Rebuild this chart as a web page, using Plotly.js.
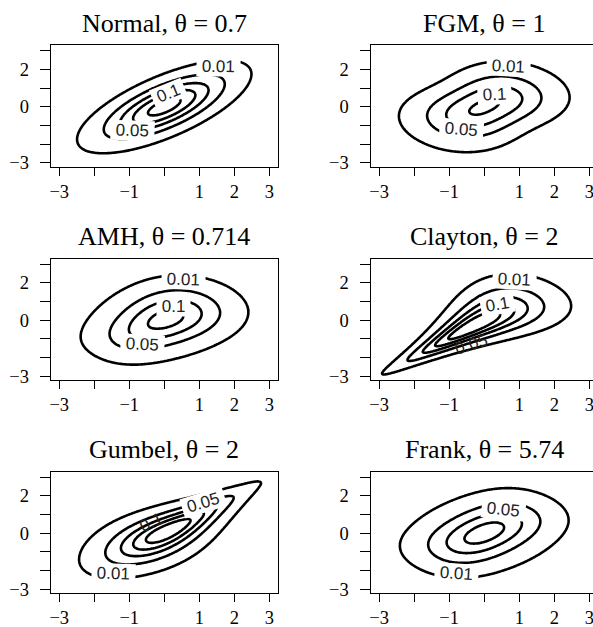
<!DOCTYPE html>
<html><head><meta charset="utf-8">
<script src="https://cdn.plot.ly/plotly-3.0.1.min.js"></script>
<style>html,body{margin:0;padding:0;overflow:hidden;background:#fff}#plot{width:605px;height:627px}</style>
</head><body><div id="plot"></div>
<script>
// ---- data ----
const families = ['Normal', 'FGM', 'AMH', 'Clayton', 'Gumbel', 'Frank'];
const thetaText = ['0.7', '1', '0.714', '2', '2', '5.74'];
// parameters that reproduce the drawn contours (Frank contours are drawn with a weaker dependence than its title)
const thetas = [0.7, 1, 0.714, 2, 2, 2.2];
const levels = [0.01, 0.05, 0.1, 0.15, 0.2, 0.25, 0.3, 0.35, 0.4];
const labelLevels = [
  ['0.01', '0.1', '0.05'], ['0.01', '0.1', '0.05'], ['0.01', '0.1', '0.05'],
  ['0.01', '0.1', '0.05'], ['0.01', '0.05', '0.1'], ['0.05', '0.01']
];
const tickVals = [-3, -2, -1, 0, 1, 2, 3];
const xTickText = ['\u22123', '', '\u22121', '', '1', '2', '3'];
const yTickText = ['\u22123', '', '', '0', '', '2', ''];
const gridMin = -3, gridMax = 3, gridN = 161;

// ---- contour label placement (text positions, in axis units) ----
const labelX = [[1.54, 0.11, -0.90], [0.69, 0.30, -0.65], [0.54, 0.26, -0.62],
                [0.85, 0.37, -0.36], [-1.46, 1.13, -0.36], [0.56, -0.79]];
const labelY = [[2.14, 0.71, -1.29], [2.14, 0.68, -1.21], [2.18, 0.73, -1.31],
                [2.18, 0.82, -1.31], [-2.18, 1.61, 0.54], [1.25, -2.18]];
const labelAngle = [[1, -22, 2], [3, -3, 5], [2, 0, 3], [3, -10, -17], [2, -17, -25], [6, 4]];
const labelMask = [[1, 1, 1], [1, 1, 1], [1, 1, 1], [1, 1, 0], [1, 1, 0], [1, 1]];

// ---- copula densities with N(0,1) margins ----
function erfc(x) {
  const z = Math.abs(x), t = 1 / (1 + 0.5 * z);
  const r = t * Math.exp(-z * z - 1.26551223 + t * (1.00002368 + t * (0.37409196 + t * (0.09678418 +
    t * (-0.18628806 + t * (0.27886807 + t * (-1.13520398 + t * (1.48851587 + t * (-0.82215223 + t * 0.17087277)))))))));
  return x >= 0 ? r : 2 - r;
}
const pnorm = x => 0.5 * erfc(-x / Math.SQRT2);
const dnorm = x => Math.exp(-x * x / 2) / Math.sqrt(2 * Math.PI);
const copulaDensity = {
  Normal: (u, v, t, x, y) => Math.exp(-(x * x - 2 * t * x * y + y * y) / (2 * (1 - t * t)) + (x * x + y * y) / 2) / Math.sqrt(1 - t * t),
  FGM: (u, v, t) => 1 + t * (1 - 2 * u) * (1 - 2 * v),
  AMH: (u, v, t) => (1 + t * ((1 + u) * (1 + v) - 3) + t * t * (1 - u) * (1 - v)) / Math.pow(1 - t * (1 - u) * (1 - v), 3),
  Clayton: (u, v, t) => (1 + t) * Math.pow(u * v, -t - 1) * Math.pow(Math.pow(u, -t) + Math.pow(v, -t) - 1, -2 - 1 / t),
  Gumbel: (u, v, t) => {
    const a = -Math.log(u), b = -Math.log(v);
    const A = Math.pow(a, t) + Math.pow(b, t), w = Math.pow(A, 1 / t);
    return Math.exp(-w) * Math.pow(a * b, t - 1) / (u * v) * Math.pow(A, 1 / t - 2) * (w + t - 1);
  },
  Frank: (u, v, t) => {
    const e = 1 - Math.exp(-t);
    const d = e - (1 - Math.exp(-t * u)) * (1 - Math.exp(-t * v));
    return t * e * Math.exp(-t * (u + v)) / (d * d);
  }
};

const grid = [];
for (let i = 0; i < gridN; i++) grid.push(gridMin + (gridMax - gridMin) * i / (gridN - 1));

// ---- layout geometry (pixels) ----
const W = 605, H = 627;
const colBox = [[50.7, 278], [370.5, 598.2]];
const rowBox = [[45.3, 166.7], [258.6, 380], [471.6, 593]];
const xRange = [-3.245, 3.25], yRange = [-3.21, 3.29];

const traces = [];
const layout = {
  width: W, height: H, margin: {l: 0, r: 0, t: 0, b: 0},
  paper_bgcolor: '#fff', plot_bgcolor: '#fff', showlegend: false,
  annotations: []
};

families.forEach((fam, p) => {
  const th = thetas[p];
  const z = grid.map(y => grid.map(x => {
    const u = pnorm(x), v = pnorm(y);
    return copulaDensity[fam](u, v, th, x, y) * dnorm(x) * dnorm(y);
  }));
  const ax = p === 0 ? '' : String(p + 1);
  const col = p % 2, row = Math.floor(p / 2);
  const [l, r] = colBox[col], [t, b] = rowBox[row];
  levels.forEach(L => {
    traces.push({
      type: 'contour', x: grid, y: grid, z: z,
      xaxis: 'x' + ax, yaxis: 'y' + ax,
      autocontour: false, showscale: false, hoverinfo: 'skip',
      contours: {coloring: 'none', start: L, end: L, size: 1, showlabels: false},
      line: {color: 'black', width: 2.6, smoothing: 1}
    });
  });
  const axBase = {
    showline: true, mirror: true, linecolor: 'black', linewidth: 1,
    ticks: 'outside', tickwidth: 1, tickcolor: 'black',
    tickmode: 'array', tickvals: tickVals, showgrid: false, zeroline: false, fixedrange: true,
    tickfont: {family: 'Liberation Serif', size: 18.5, color: 'black'}
  };
  layout['xaxis' + ax] = Object.assign({}, axBase, {
    range: xRange, domain: [l / W, r / W], anchor: 'y' + ax, ticktext: xTickText,
    ticklen: 8, ticklabelstandoff: 0
  });
  layout['yaxis' + ax] = Object.assign({}, axBase, {
    range: yRange, domain: [1 - b / H, 1 - t / H], anchor: 'x' + ax, ticktext: yTickText,
    ticklen: 10, ticklabelstandoff: 7
  });
  layout.annotations.push({
    xref: 'paper', yref: 'paper', x: (l + r) / 2 / W, y: 1 - (t - 22) / H,
    xanchor: 'center', yanchor: 'middle', showarrow: false,
    text: fam + ', \u03b8 = ' + thetaText[p],
    font: {family: 'Liberation Serif', size: 26, color: 'black'}
  });
  labelLevels[p].forEach((txt, k) => {
    layout.annotations.push({
      xref: 'x' + ax, yref: 'y' + ax, x: labelX[p][k], y: labelY[p][k],
      xanchor: 'center', yanchor: 'middle', showarrow: false,
      text: '\u00a0' + txt + '\u00a0', textangle: labelAngle[p][k],
      bgcolor: labelMask[p][k] ? '#ffffff' : 'rgba(0,0,0,0)', borderpad: 0,
      font: {family: 'Liberation Sans', size: 17, color: '#222'}
    });
  });
});

Plotly.newPlot('plot', traces, layout, {staticPlot: true, displayModeBar: false});
</script>
</body></html>
